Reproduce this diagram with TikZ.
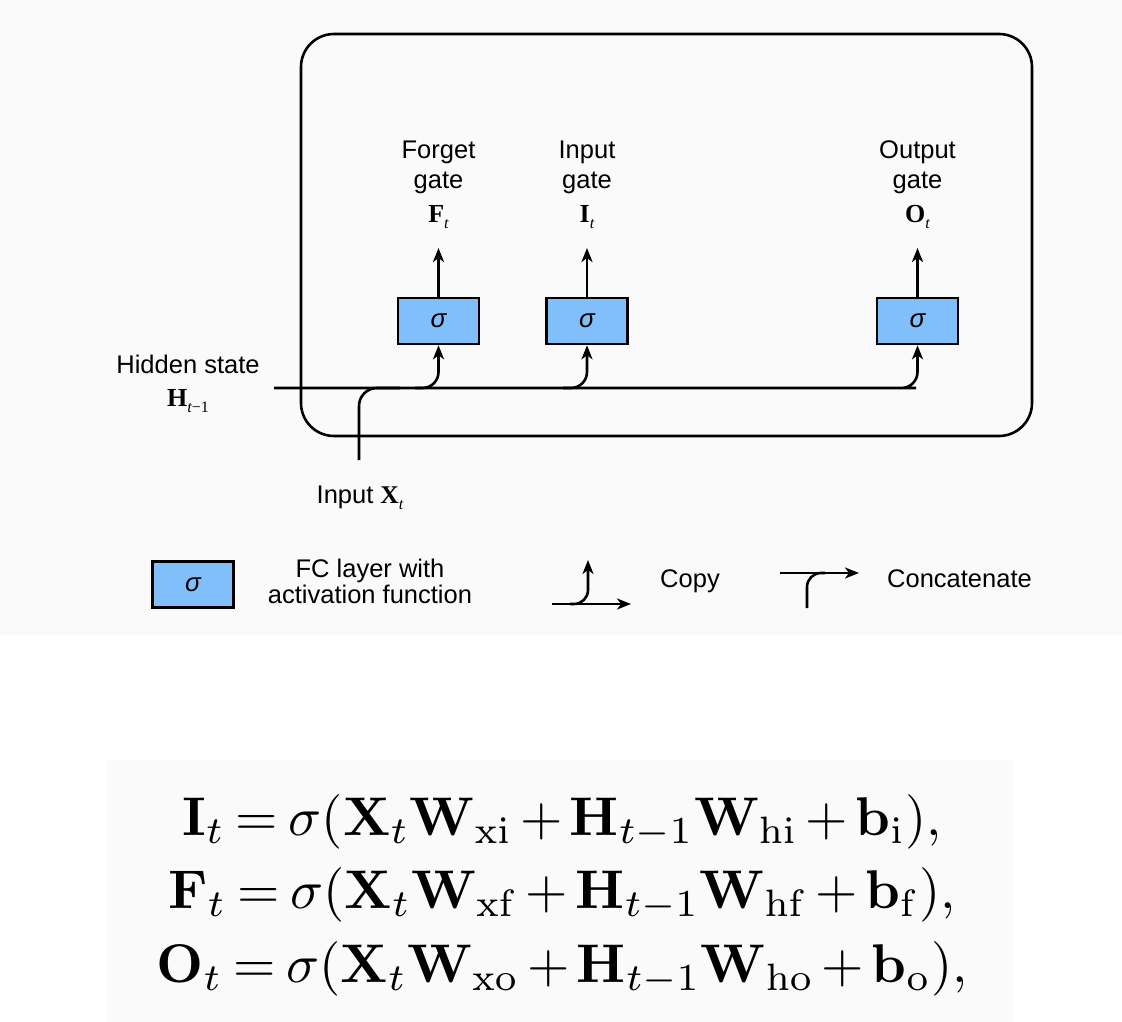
\documentclass[tikz,border=0pt]{standalone}
\usepackage[no-math]{fontspec}
\usetikzlibrary{arrows.meta}
\newfontfamily\arialf{Liberation Sans}
\newfontfamily\tnrf{Liberation Serif}
\definecolor{bggray}{RGB}{250,250,250}
\definecolor{boxblue}{RGB}{128,191,250}
\newcommand\bvar[2]{{\tnrf\bfseries #1}\raisebox{-6pt}{\tnrf\fontsize{16}{16}\selectfont #2}}
\tikzset{
  lab/.style={font=\arialf\fontsize{25.5}{28}\selectfont, inner sep=0pt, anchor=base},
  mlab/.style={font=\fontsize{26}{28}\selectfont, inner sep=0pt, anchor=base},
  sbox/.style={draw, line width=2.6pt, fill=boxblue, minimum width=81pt, minimum height=46pt, inner sep=0pt, font=\arialf\itshape\fontsize{26}{28}\selectfont},
  ln/.style={line width=2.6pt},
  arr/.style={line width=2.6pt, -{Stealth[length=14pt,width=11pt,inset=4pt]}},
  eq/.style={inner sep=0pt, anchor=base, scale=5.45, font=\fontsize{10}{12}\selectfont}
}
\begin{document}
\begin{tikzpicture}[x=1pt,y=-1pt]
\useasboundingbox (0,0) rectangle (1122,1022);
% backgrounds
\fill[bggray] (0,0) rectangle (1122,635);
\fill[bggray] (107,760) rectangle (1013,1022);
% cell frame
\draw[line width=2.6pt, rounded corners=33pt] (301,34) rectangle (1032,436);
% gate boxes
\node[sbox] (fbox) at (438.5,321) {σ};
\node[sbox] (ibox) at (587,321) {σ};
\node[sbox] (obox) at (917.5,321) {σ};
% gate labels
\node[lab] (fl1) at (438.5,158) {Forget};
\node[lab] (fl2) at (438.5,188) {gate};
\node[mlab] (fl3) at (438.5,222) {\bvar{F}{\itshape t}};
\node[lab] (il1) at (587,158) {Input};
\node[lab] (il2) at (587,188) {gate};
\node[mlab] (il3) at (587,222) {\bvar{I}{\itshape t}};
\node[lab] (ol1) at (917.5,158) {Output};
\node[lab] (ol2) at (917.5,188) {gate};
\node[mlab] (ol3) at (917.5,222) {\bvar{O}{\itshape t}};
\coordinate (ftip) at (438.5,248);
\coordinate (itip) at (587,248);
\coordinate (otip) at (917.5,248);
\draw[arr] (fbox.north) -- (ftip);
\draw[arr] (ibox.north) -- (itip);
\draw[arr] (obox.north) -- (otip);
% hidden state and input
\node[lab] (hs) at (188,373) {Hidden state};
\node[mlab] (hv) at (188,406) {\bvar{H}{\itshape t\upshape −1}};
\node[lab] (inp) at (360,503) {Input \bvar{X}{\itshape t}};
\coordinate (hstart) at (274,388);
\coordinate (xstart) at (359,460);
\draw[arr, rounded corners=16pt] (hstart) -- (900,388) -| (obox.south);
\draw[arr, rounded corners=16pt] (415,388) -| (fbox.south);
\draw[arr, rounded corners=16pt] (563,388) -| (ibox.south);
\draw[ln, rounded corners=18pt] (xstart) |- (400,388);
% legend
\node[sbox] (lbox) at (193,584.5) {σ};
\node[lab] (lt1) at (370,577) {FC layer with};
\node[lab] (lt2) at (370,603) {activation function};
\coordinate (cpa) at (552,604);
\coordinate (cpb) at (631,604);
\coordinate (cpc) at (570,604);
\coordinate (cpd) at (588,560);
\draw[arr] (cpa) -- (cpb);
\draw[arr, rounded corners=14pt] (cpc) -| (cpd);
\node[lab] (cpt) at (690,587) {Copy};
\coordinate (cca) at (780,573);
\coordinate (ccb) at (859,573);
\coordinate (ccc) at (807,608);
\coordinate (ccd) at (825,573);
\draw[arr] (cca) -- (ccb);
\draw[ln, rounded corners=14pt] (ccc) |- (ccd);
\node[lab, anchor=base west] (cct) at (887,587) {Concatenate};
% equations
\node[eq] (e1) at (562,835) {\medmuskip=2.5mu\thickmuskip=3.5mu$\mathbf{I}_t = \sigma(\mathbf{X}_t \mathbf{W}_{\mathrm{xi}} + \mathbf{H}_{t-1} \mathbf{W}_{\mathrm{hi}} + \mathbf{b}_{\mathrm{i}}),$};
\node[eq] (e2) at (562,908) {\medmuskip=2.5mu\thickmuskip=3.5mu$\mathbf{F}_t = \sigma(\mathbf{X}_t \mathbf{W}_{\mathrm{xf}} + \mathbf{H}_{t-1} \mathbf{W}_{\mathrm{hf}} + \mathbf{b}_{\mathrm{f}}),$};
\node[eq] (e3) at (562,982) {\medmuskip=2.5mu\thickmuskip=3.5mu$\mathbf{O}_t = \sigma(\mathbf{X}_t \mathbf{W}_{\mathrm{xo}} + \mathbf{H}_{t-1} \mathbf{W}_{\mathrm{ho}} + \mathbf{b}_{\mathrm{o}}),$};
\end{tikzpicture}
\end{document}
